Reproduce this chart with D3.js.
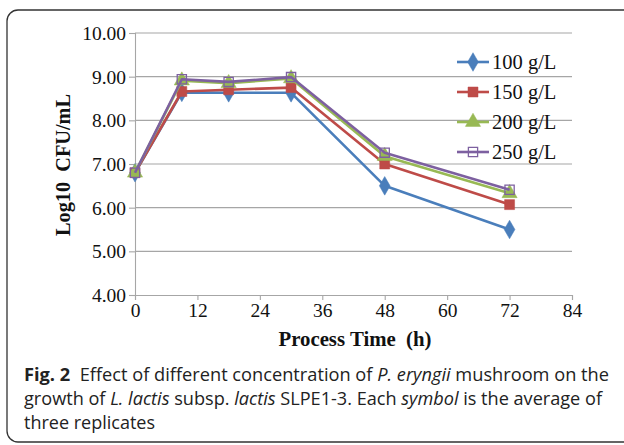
<!DOCTYPE html>
<html>
<head>
<meta charset="utf-8">
<script src="https://cdn.jsdelivr.net/npm/d3@7"></script>
<style>
  body { margin: 0; background: #fff; }
  svg { display: block; }
</style>
</head>
<body>
<div id="chart"></div>
<script>
// data
const times = [0, 9, 18, 30, 48, 72];
const series = ["100 g/L", "150 g/L", "200 g/L", "250 g/L"];
const v100 = [6.80, 8.64, 8.63, 8.63, 6.50, 5.50];
const v150 = [6.80, 8.66, 8.70, 8.75, 7.00, 6.07];
const v200 = [6.80, 8.91, 8.85, 8.96, 7.18, 6.33];
const v250 = [6.80, 8.94, 8.88, 8.99, 7.26, 6.41];
const xTicks = [0, 12, 24, 36, 48, 60, 72, 84];
const yTicks = [4, 5, 6, 7, 8, 9, 10];

const values = [v100, v150, v200, v250];
const colors = ["#4A7EBB", "#BE4B48", "#98B954", "#7D60A0"];
const symbols = [d3.symbolDiamond, d3.symbolSquare, d3.symbolTriangle, d3.symbolSquare];

const width = 624, height = 445;
const svg = d3.select("#chart").append("svg")
  .attr("width", width).attr("height", height);

// frame
svg.append("rect")
  .attr("x", 7).attr("y", 10)
  .attr("width", 660).attr("height", 432)
  .attr("rx", 11)
  .attr("fill", "none").attr("stroke", "#333").attr("stroke-width", 1.3);

const x = d3.scaleLinear().domain([0, 84]).range([135, 572]);
const y = d3.scaleLinear().domain([4, 10]).range([295, 33]);

// gridlines
svg.append("g")
  .selectAll("line")
  .data(yTicks.slice(1))
  .join("line")
  .attr("x1", x(0)).attr("x2", x(84))
  .attr("y1", d => y(d)).attr("y2", d => y(d))
  .attr("stroke", "#a6a6a6").attr("stroke-width", 1.1);

// axes
const yAxis = svg.append("g")
  .attr("transform", `translate(${x(0)},0)`)
  .call(d3.axisLeft(y).tickValues(yTicks).tickFormat(d3.format(".2f")).tickSize(6).tickPadding(3));
const xAxis = svg.append("g")
  .attr("transform", `translate(0,${y(4)})`)
  .call(d3.axisBottom(x).tickValues(xTicks).tickSize(5).tickPadding(3));

[yAxis, xAxis].forEach(g => {
  g.select(".domain").attr("stroke", "#a6a6a6").attr("stroke-width", 1.1);
  g.selectAll(".tick line").attr("stroke", "#a6a6a6").attr("stroke-width", 1.1);
  g.selectAll("text")
    .attr("fill", "#111")
    .style("font-family", "'Liberation Serif', 'Times New Roman', serif")
    .style("font-size", "19.5px");
});
yAxis.selectAll("text").attr("dy", "0.34em");

// axis titles
svg.append("text")
  .attr("transform", `translate(70,${(y(4) + y(10)) / 2 + 1}) rotate(-90)`)
  .attr("text-anchor", "middle")
  .style("font-family", "'Liberation Serif', serif")
  .style("font-weight", "bold").style("font-size", "20.3px")
  .attr("fill", "#111")
  .attr("xml:space", "preserve")
  .text("Log10  CFU/mL");

svg.append("text")
  .attr("x", 355).attr("y", 346)
  .attr("text-anchor", "middle")
  .style("font-family", "'Liberation Serif', serif")
  .style("font-weight", "bold").style("font-size", "20.8px")
  .attr("fill", "#111")
  .attr("xml:space", "preserve")
  .text("Process Time  (h)");

// lines and markers
const line = d3.line().x((d, i) => x(times[i])).y(d => y(d));

values.forEach((vals, s) => {
  const g = svg.append("g");
  g.append("path")
    .datum(vals)
    .attr("d", line)
    .attr("fill", "none")
    .attr("stroke", colors[s])
    .attr("stroke-width", 2.6)
    .attr("stroke-linejoin", "round");
  g.selectAll("path.m")
    .data(vals)
    .join("path")
    .attr("class", "m")
    .attr("transform", (d, i) => `translate(${x(times[i])},${y(d)})`)
    .attr("d", d3.symbol().type(symbols[s]).size(s === 3 ? 85 : 100))
    .attr("fill", s === 3 ? "#fff" : colors[s])
    .attr("fill-opacity", s === 3 ? 0 : 1)
    .attr("stroke", colors[s])
    .attr("stroke-width", s === 3 ? 1.3 : 0.5);
});

// legend
const legend = svg.append("g")
  .selectAll("g")
  .data(series)
  .join("g")
  .attr("transform", (d, i) => `translate(457,${62 + i * 30})`);
legend.append("line")
  .attr("x1", 0).attr("x2", 32)
  .attr("stroke", (d, i) => colors[i]).attr("stroke-width", 2.6);
legend.append("path")
  .attr("transform", "translate(16,0)")
  .attr("d", (d, i) => d3.symbol().type(symbols[i]).size(i === 3 ? 85 : 100)())
  .attr("fill", (d, i) => i === 3 ? "#fff" : colors[i])
  .attr("fill-opacity", (d, i) => i === 3 ? 0 : 1)
  .attr("stroke", (d, i) => colors[i])
  .attr("stroke-width", (d, i) => i === 3 ? 1.3 : 0.5);
legend.append("text")
  .attr("x", 35).attr("dy", "0.35em")
  .style("font-family", "'Liberation Serif', serif")
  .style("font-size", "20.5px")
  .attr("fill", "#111")
  .text(d => d);

// caption
const cap = svg.append("g")
  .style("font-family", "'Open Sans', 'Noto Sans', sans-serif")
  .style("font-size", "18px")
  .attr("fill", "#222");

const capLines = [
  [["Fig. 2", "b"], ["  Effect of different concentration of ", ""], ["P. eryngii", "i"], [" mushroom on the", ""]],
  [["growth of ", ""], ["L. lactis", "i"], [" subsp. ", ""], ["lactis", "i"], [" SLPE1-3. Each ", ""], ["symbol", "i"], [" is the average of", ""]],
  [["three replicates", ""]]
];
const capLen = [585, 578, 131];

capLines.forEach((parts, li) => {
  const t = cap.append("text")
    .attr("x", 24).attr("y", 381 + li * 24)
    .attr("xml:space", "preserve")
    .attr("textLength", capLen[li])
    .attr("lengthAdjust", "spacingAndGlyphs");
  parts.forEach(([s, st]) => {
    t.append("tspan")
      .style("font-weight", st === "b" ? "bold" : null)
      .style("font-style", st === "i" ? "italic" : null)
      .text(s);
  });
});
</script>
</body>
</html>
